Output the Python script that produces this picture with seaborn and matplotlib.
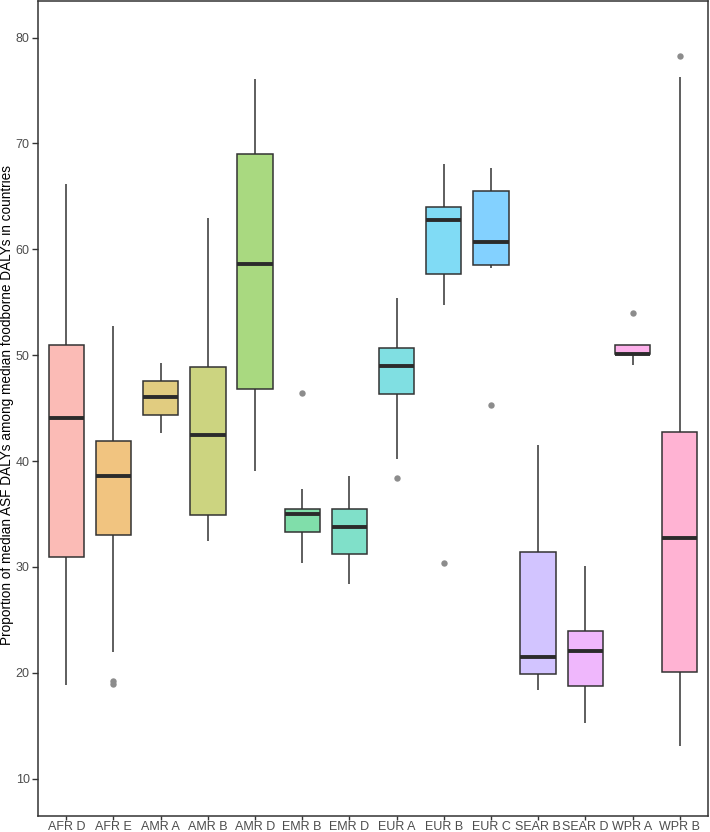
import numpy as np
import pandas as pd
import matplotlib
matplotlib.use("Agg")
import matplotlib.pyplot as plt
import seaborn as sns

# ---- data (summary statistics per region) ----
regions = ["AFR D", "AFR E", "AMR A", "AMR B", "AMR D", "EMR B", "EMR D",
           "EUR A", "EUR B", "EUR C", "SEAR B", "SEAR D", "WPR A", "WPR B"]
whisker_low = [18.8, 22.0, 42.6, 32.4, 39.1, 30.4, 28.4, 40.2, 54.7, 58.2, 18.4, 15.3, 49.1, 13.1]
q1_values   = [30.9, 33.0, 44.3, 34.9, 46.8, 33.3, 31.2, 46.3, 57.7, 58.5, 19.9, 18.75, 50.1, 20.1]
medians     = [44.1, 38.6, 46.0, 42.5, 58.6, 35.0, 33.8, 49.0, 62.8, 60.7, 21.5, 22.1, 50.1, 32.7]
q3_values   = [51.0, 41.9, 47.6, 48.9, 69.0, 35.5, 35.5, 50.7, 64.0, 65.5, 31.45, 23.9, 51.0, 42.7]
whisker_high = [66.2, 52.8, 49.3, 63.0, 76.1, 37.4, 38.6, 55.4, 68.1, 67.7, 41.5, 30.1, 51.0, 76.3]
outlier_regions = ["AFR E", "AFR E", "EMR B", "EUR A", "EUR B", "EUR C", "WPR A", "WPR B"]
outlier_values  = [19.2, 18.9, 46.45, 38.4, 30.4, 45.3, 54.0, 78.3]

y_label = "Proportion of median ASF DALYs among median foodborne DALYs in countries"
y_ticks = [10, 20, 30, 40, 50, 60, 70, 80]

# long table: the five summary values per region (quartiles reproduce exactly)
rows = []
for i, r in enumerate(regions):
    for v in (whisker_low[i], q1_values[i], medians[i], q3_values[i], whisker_high[i]):
        rows.append({"region": r, "value": v})
df = pd.DataFrame(rows)
df_out = pd.DataFrame({"region": outlier_regions, "value": outlier_values})


def hcl_to_rgb(h, c=100.0, l=65.0):
    """Polar CIE-Luv (HCL) to sRGB, as used by ggplot2's hue palette."""
    hr = np.deg2rad(h)
    u, v = c * np.cos(hr), c * np.sin(hr)
    Xn, Yn, Zn = 95.047, 100.0, 108.883
    un = 4 * Xn / (Xn + 15 * Yn + 3 * Zn)
    vn = 9 * Yn / (Xn + 15 * Yn + 3 * Zn)
    Y = Yn * ((l + 16) / 116) ** 3
    up = u / (13 * l) + un
    vp = v / (13 * l) + vn
    X = Y * 9 * up / (4 * vp)
    Z = Y * (12 - 3 * up - 20 * vp) / (4 * vp)
    xyz = np.array([X, Y, Z]) / 100.0
    M = np.array([[3.2404542, -1.5371385, -0.4985314],
                  [-0.9692660, 1.8760108, 0.0415560],
                  [0.0556434, -0.2040259, 1.0572252]])
    rgb = M @ xyz
    rgb = np.where(rgb <= 0.0031308, 12.92 * rgb, 1.055 * np.clip(rgb, 0, None) ** (1 / 2.4) - 0.055)
    return np.clip(rgb, 0, 1)


n = len(regions)
hues = np.linspace(15, 375, n + 1)[:-1]
palette = {}
for r, h in zip(regions, hues):
    c = hcl_to_rgb(h % 360)
    palette[r] = tuple(0.5 * c + 0.5)   # alpha 0.5 over white

sns.set_theme(style="white")
plt.rcParams["font.family"] = ["Liberation Sans", "DejaVu Sans"]

fig = plt.figure(figsize=(7.10, 8.32), dpi=100)
W, H = 710, 832
ax = fig.add_axes([38 / W, (H - 815.7) / H, (708 - 38) / W, (815.7 - 1) / H])

sns.boxplot(data=df, x="region", y="value", hue="region", order=regions,
            hue_order=regions, palette=palette, saturation=1, legend=False, whis=np.inf,
            width=0.75, linecolor="#333333", linewidth=1.1, showcaps=False,
            showfliers=False, medianprops={"linewidth": 2.8, "color": "#2b2b2b"},
            ax=ax)
sns.stripplot(data=df_out, x="region", y="value", order=regions, jitter=False,
              color="#8c8c8c", size=4.6, linewidth=0, ax=ax)

ax.set_xlim(-0.6, 13.6)
ax.set_ylim(6.5, 83.45)
ax.set_yticks(y_ticks)
ax.set_yticklabels([str(t) for t in y_ticks])
ax.set_xlabel("")
ax.set_ylabel("")
ax.tick_params(axis="both", which="both", width=1.0, color="#333333",
               labelsize=9, labelcolor="#4D4D4D", left=True, bottom=True)
ax.tick_params(axis="y", length=4, pad=2)
ax.tick_params(axis="x", length=3, pad=0.5)
for s in ax.spines.values():
    s.set_visible(True)
    s.set_color("#333333")
    s.set_linewidth(1.1)
ax.grid(False)

fig.text(7.5 / W, 1 - 405 / H, y_label, rotation=90, ha="center", va="center",
         fontsize=9.8, color="black")

fig.savefig("out.png", dpi=100)
